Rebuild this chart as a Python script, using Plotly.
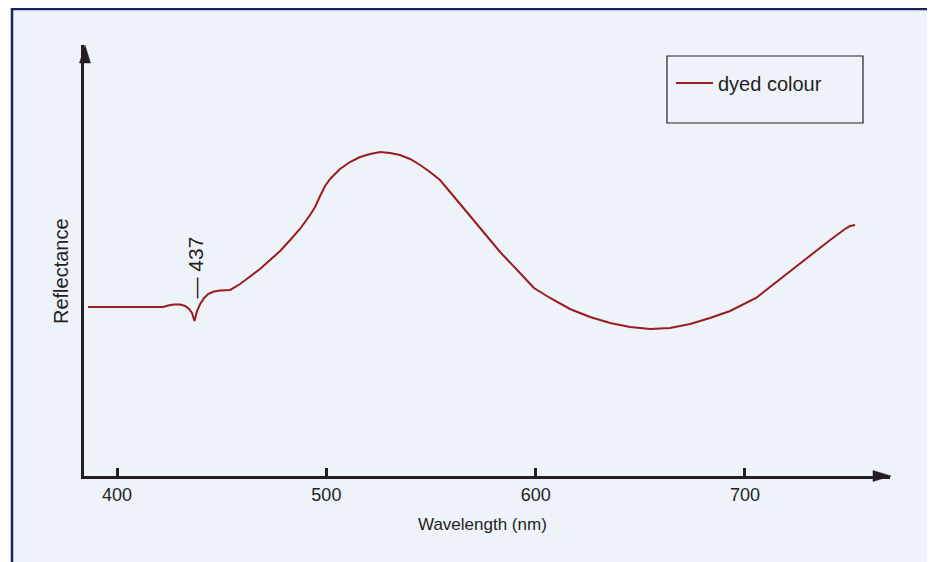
import plotly.graph_objects as go

# ---- data (reflectance in arbitrary units, 0 = axis) ----
wavelength = [386.1, 422.0, 424.4, 427.2, 430.1, 432.5, 434.4, 435.8, 437.0, 438.2,
              439.7, 441.6, 443.5, 446.3, 449.2, 454.0, 458.8, 463.5, 468.3, 473.1,
              477.9, 482.7, 487.4, 492.2, 494.6, 497.0, 499.4, 501.8, 504.2, 506.5,
              511.3, 516.1, 520.9, 525.7, 530.4, 535.2, 540.0, 544.8, 549.5, 554.3,
              563.9, 573.4, 583.0, 592.5, 599.2, 606.9, 616.4, 626.0, 635.6, 645.1,
              654.7, 664.2, 673.8, 683.3, 692.9, 705.3, 712.0, 721.5, 731.1, 740.7,
              747.8, 750.2, 752.6]
reflectance = [39.21, 39.21, 39.56, 39.79, 39.79, 39.44, 38.75, 37.82, 35.96, 38.28,
               39.91, 41.30, 42.23, 42.81, 43.04, 43.16, 44.55, 46.17, 48.03, 50.12,
               52.20, 54.76, 57.31, 60.56, 62.41, 64.97, 67.29, 68.91, 70.07, 71.23,
               72.85, 74.01, 74.71, 75.17, 74.94, 74.48, 73.55, 72.16, 70.53, 68.68,
               63.11, 57.54, 51.97, 47.10, 43.62, 41.30, 38.75, 36.89, 35.50, 34.57,
               34.11, 34.34, 35.27, 36.66, 38.28, 41.30, 43.85, 47.56, 51.28, 54.76,
               57.31, 58.00, 58.24]
x_ticks = [400, 500, 600, 700]
series_name = "dyed colour"
marked_wavelength = 437

# ---- layout geometry (page pixels; page body has an 8px margin) ----
OFF = 8
W, H = 935 - OFF, 562 - OFF
L, R, T, B = 84, 890, 45, 476          # plot area in page pixels


def px(x):
    return (x - L) / (R - L)


def py(y):
    return (B - y) / (B - T)


INK = "#231F20"
RED = "#9B1C1F"
BG = "#EEF3FA"
NAVY = "#1F2260"
FONT = "Liberation Sans, Arial, sans-serif"

fig = go.Figure()
fig.add_trace(go.Scatter(x=wavelength, y=reflectance, mode="lines", name=series_name,
                         line=dict(color=RED, width=2)))

shapes = [
    # panel background with navy border
    dict(type="rect", xref="paper", yref="paper", x0=px(12), x1=px(930), y0=py(600), y1=py(9),
         fillcolor=BG, line=dict(color=NAVY, width=2.5), layer="below"),
    # legend box
    dict(type="rect", xref="paper", yref="paper", x0=px(667), x1=px(863), y0=py(123), y1=py(56),
         fillcolor="rgba(0,0,0,0)", line=dict(color=INK, width=1.2)),
    # x-axis arrow head
    dict(type="path", xref="paper", yref="paper",
         path=f"M {px(891)} {py(476)} L {px(873)} {py(470.5)} L {px(873)} {py(481.5)} Z",
         fillcolor=INK, line=dict(color=INK, width=0.5)),
    # y-axis arrow head
    dict(type="path", xref="paper", yref="paper",
         path=f"M {px(85)} {py(45)} L {px(79.5)} {py(63)} L {px(90.5)} {py(63)} Z",
         fillcolor=INK, line=dict(color=INK, width=0.5)),
]

annotations = [
    dict(text="Wavelength (nm)", xref="paper", yref="paper", x=px(482), y=py(524),
         showarrow=False, font=dict(size=17, color=INK), xanchor="center", yanchor="middle"),
    dict(text="Reflectance", xref="paper", yref="paper", x=px(61), y=py(271),
         showarrow=False, textangle=-90, font=dict(size=20, color=INK),
         xanchor="center", yanchor="middle"),
    dict(text=f"— {marked_wavelength}", x=marked_wavelength, y=0, xref="x", yref="paper",
         yshift=B - 268, showarrow=False, textangle=-90,
         font=dict(size=21, color=INK), xanchor="center", yanchor="middle"),
]

fig.update_layout(
    width=W, height=H,
    margin=dict(l=L - OFF, r=W - (R - OFF), t=T - OFF, b=H - (B - OFF)),
    paper_bgcolor="white", plot_bgcolor="rgba(0,0,0,0)",
    font=dict(family=FONT, color=INK),
    showlegend=True,
    legend=dict(x=px(671), y=py(83), xanchor="left", yanchor="middle",
                bgcolor="rgba(0,0,0,0)", borderwidth=0, itemwidth=37,
                font=dict(size=20, color=INK)),
    xaxis=dict(range=[384.2, 769.3], tickvals=x_ticks, ticks="inside", ticklen=8,
               tickwidth=2.5, tickcolor=INK, showline=True, linecolor=INK, linewidth=2.5,
               showgrid=False, zeroline=False, tickfont=dict(size=18, color=INK),
               ticklabelstandoff=1),
    yaxis=dict(range=[0, 100], showticklabels=False, ticks="", showline=True,
               linecolor=INK, linewidth=2.5, showgrid=False, zeroline=False),
    shapes=shapes,
    annotations=annotations,
)

fig.write_html("out.html")
